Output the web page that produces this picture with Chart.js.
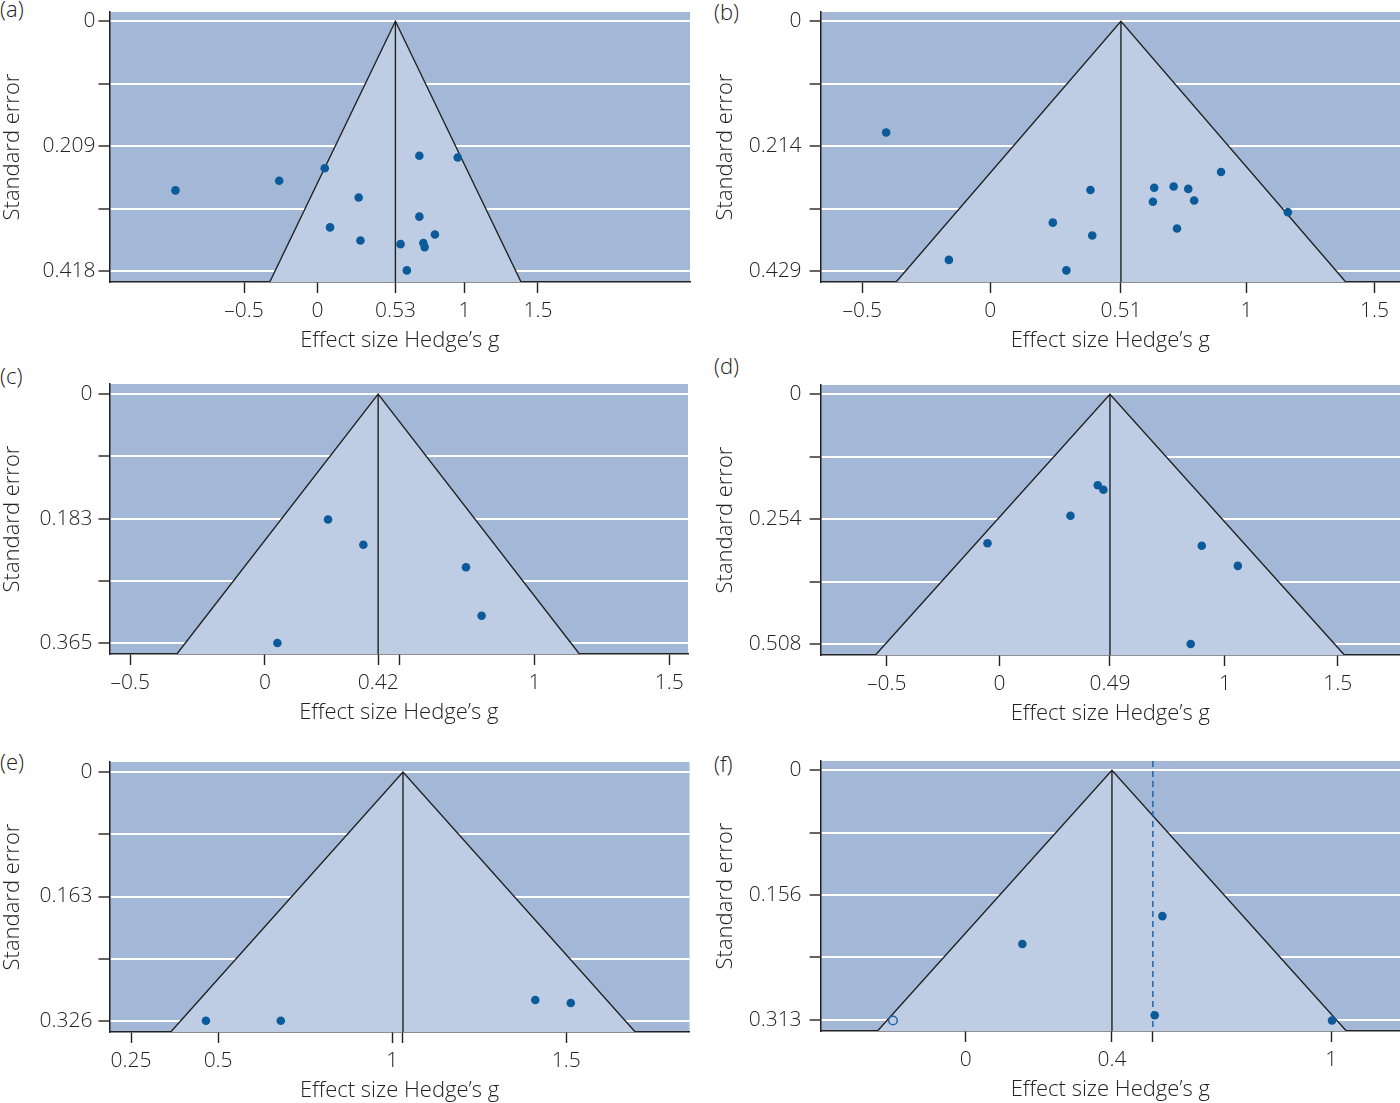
<!DOCTYPE html>
<html>
<head>
<meta charset="utf-8">
<script src="https://cdn.jsdelivr.net/npm/chart.js@4.4.1/dist/chart.umd.min.js"></script>
<style>
  html, body { margin: 0; padding: 0; background: #fff; }
  body { width: 1400px; height: 1103px; position: relative; overflow: hidden; }
  .panel { position: absolute; }
  .tag { position: absolute; font: 300 22px 'Open Sans', sans-serif; color: #222; line-height: 1; }
</style>
</head>
<body>
<div class="tag" style="left:0;top:-3px">(a)</div>
<div class="tag" style="left:714px;top:0">(b)</div>
<div class="tag" style="left:0;top:364px">(c)</div>
<div class="tag" style="left:714px;top:354px">(d)</div>
<div class="tag" style="left:0;top:750px">(e)</div>
<div class="tag" style="left:714px;top:752px">(f)</div>

<script>
// study effect sizes (Hedges' g) and standard errors
const aG  = [-0.967, -0.261, 0.049, 0.693, 0.954, 0.280, 0.693, 0.085, 0.799, 0.292, 0.565, 0.720, 0.729, 0.608];
const aSE = [0.283, 0.267, 0.246, 0.225, 0.228, 0.295, 0.327, 0.345, 0.357, 0.367, 0.373, 0.371, 0.378, 0.417];
const bG  = [-0.407, 0.901, 0.391, 0.640, 0.716, 0.773, 0.635, 0.796, 1.162, 0.244, 0.729, 0.398, -0.162, 0.297];
const bSE = [0.191, 0.259, 0.290, 0.286, 0.284, 0.288, 0.310, 0.308, 0.328, 0.346, 0.356, 0.368, 0.410, 0.428];
const cG  = [0.234, 0.365, 0.746, 0.804, 0.046];
const cSE = [0.184, 0.221, 0.254, 0.325, 0.365];
const dG  = [0.436, 0.461, 0.315, -0.053, 0.897, 1.057, 0.848];
const dSE = [0.185, 0.194, 0.247, 0.303, 0.308, 0.349, 0.508];
const eG  = [0.465, 0.680, 1.411, 1.513];
const eSE = [0.3256, 0.3256, 0.2986, 0.3025];
const fG  = [0.538, 0.155, 0.517, 1.002];
const fSE = [0.183, 0.218, 0.3075, 0.314];
// trim-and-fill imputed study in (f)
const fImpG  = [-0.199];
const fImpSE = [0.314];

// pooled estimates (funnel centre) and the adjusted estimate in (f)
const centres = [0.53, 0.51, 0.42, 0.49, 1.031, 0.40];
const fAdjusted = 0.512;

// tick values and labels
const aXTicks = [-0.5, 0, 0.53, 1, 1.5];
const aXLabels = ['\u20130.5', '0', '0.53', '1', '1.5'];
const bXTicks = [-0.5, 0, 0.51, 1, 1.5];
const bXLabels = ['\u20130.5', '0', '0.51', '1', '1.5'];
const cXTicks = [-0.5, 0, 0.42, 0.5, 1, 1.5];
const cXLabels = ['\u20130.5', '0', '0.42', '', '1', '1.5'];
const dXTicks = [-0.5, 0, 0.49, 1, 1.5];
const dXLabels = ['\u20130.5', '0', '0.49', '1', '1.5'];
const eXTicks = [0.25, 0.5, 1, 1.031, 1.5];
const eXLabels = ['0.25', '0.5', '1', '', '1.5'];
const fXTicks = [0, 0.4, 0.512, 1];
const fXLabels = ['0', '0.4', '', '1'];

const aYTicks = [0, 0.1045, 0.209, 0.3135, 0.418];
const bYTicks = [0, 0.10725, 0.214, 0.32175, 0.429];
const cYTicks = [0, 0.09125, 0.183, 0.27375, 0.365];
const dYTicks = [0, 0.127, 0.254, 0.381, 0.508];
const eYTicks = [0, 0.0815, 0.163, 0.2445, 0.326];
const fYTicks = [0, 0.07825, 0.156, 0.23475, 0.313];
const aYLabels = ['0', '', '0.209', '', '0.418'];
const bYLabels = ['0', '', '0.214', '', '0.429'];
const cYLabels = ['0', '', '0.183', '', '0.365'];
const dYLabels = ['0', '', '0.254', '', '0.508'];
const eYLabels = ['0', '', '0.163', '', '0.326'];
const fYLabels = ['0', '', '0.156', '', '0.313'];

const Z = 1.96;
const BG = '#a3b7d6';
const FUNNEL = '#bfcde4';
const DOT = '#0b5a99';
const INK = '#222';
const FONT = "'Open Sans', sans-serif";
const PAD_TOP = 24;
const X_AXIS_H = 80;

const plotBg = {
  id: 'plotBg',
  beforeDraw(chart) {
    const { ctx, chartArea: a } = chart;
    ctx.save();
    ctx.fillStyle = BG;
    ctx.fillRect(a.left, a.top, a.right - a.left, a.bottom - a.top);
    ctx.restore();
  }
};

function drawPanel(p) {
  const top = p.area.t - PAD_TOP;
  const w = 700;
  const h = Math.round(p.area.b - top + X_AXIS_H);
  const div = document.createElement('div');
  div.className = 'panel';
  div.style.cssText = `left:${p.x0}px;top:${top}px;width:${w}px;height:${h}px`;
  const cv = document.createElement('canvas');
  cv.width = w; cv.height = h;
  cv.style.width = w + 'px'; cv.style.height = h + 'px';
  div.appendChild(cv);
  document.body.appendChild(div);

  const yb = p.yLim[1];
  const c = p.centre;
  const datasets = [
    {
      data: p.g.map((v, i) => ({ x: v, y: p.se[i] })),
      showLine: false, pointRadius: 4.3, pointBorderWidth: 0,
      pointBackgroundColor: DOT, pointBorderColor: DOT, order: 0
    },
    {
      data: [{ x: c, y: 0 }, { x: c, y: yb }],
      borderColor: '#222', borderWidth: 1.4, pointRadius: 0, order: 2
    },
    {
      data: [{ x: c - Z * yb, y: yb }, { x: c, y: 0 }, { x: c + Z * yb, y: yb }],
      borderColor: '#222', borderWidth: 1.4, backgroundColor: FUNNEL,
      fill: 'shape', pointRadius: 0, order: 3
    }
  ];
  if (p.impG) {
    datasets.push({
      data: p.impG.map((v, i) => ({ x: v, y: p.impSE[i] })),
      showLine: false, pointRadius: 4.3, pointBorderWidth: 1.5,
      pointBackgroundColor: 'rgba(0,0,0,0)', pointBorderColor: '#1f64a8', order: 0
    });
  }
  if (p.adjusted !== undefined) {
    datasets.push({
      data: [{ x: p.adjusted, y: p.yLim[0] }, { x: p.adjusted, y: yb }],
      borderColor: '#1f64a8', borderWidth: 1.5, borderDash: [6, 4], pointRadius: 0, order: 1
    });
  }

  new Chart(cv, {
    type: 'line',
    data: { datasets },
    plugins: [plotBg],
    options: {
      responsive: false,
      animation: false,
      layout: {
        autoPadding: false,
        padding: { top: PAD_TOP, left: 0, bottom: 0, right: p.x0 + w - p.area.r }
      },
      plugins: { legend: { display: false }, tooltip: { enabled: false } },
      scales: {
        x: {
          type: 'linear', position: 'bottom', min: p.xLim[0], max: p.xLim[1], z: 1,
          border: { display: true, color: INK, width: 1.5 },
          grid: { drawOnChartArea: false, drawTicks: true, tickLength: 11, tickColor: INK, tickWidth: 1.4 },
          ticks: {
            autoSkip: false, maxRotation: 0, padding: 5, color: INK,
            font: { family: FONT, size: 21, weight: '300' },
            callback: (v, i) => p.xLabels[i]
          },
          afterBuildTicks: s => { s.ticks = p.xTicks.map(v => ({ value: v })); },
          afterFit: s => { s.height = X_AXIS_H; },
          title: {
            display: true, text: 'Effect size Hedge\u2019s g', color: INK,
            font: { family: FONT, size: 22, weight: '300' }, padding: { top: 0, bottom: 8 }
          }
        },
        y: {
          type: 'linear', reverse: true, min: p.yLim[0], max: p.yLim[1],
          border: { display: true, color: INK, width: 1.5 },
          grid: { color: '#fff', lineWidth: 2, drawTicks: true, tickLength: 11, tickColor: INK, tickWidth: 1.4 },
          ticks: {
            padding: p.yPad, color: INK, font: { family: FONT, size: 21, weight: '300' },
            callback: (v, i) => p.yLabels[i]
          },
          afterBuildTicks: s => { s.ticks = p.yTicks.map(v => ({ value: v })); },
          afterFit: s => { s.width = p.area.l - p.x0; },
          title: {
            display: true, text: 'Standard error', color: INK,
            font: { family: FONT, size: 22, weight: '300' }, padding: { top: p.yTitlePad, bottom: 0 }
          }
        }
      }
    }
  });
}

drawPanel({ x0: 0, area: { l: 109.5, r: 690, t: 11.7, b: 281.7 }, g: aG, se: aSE, centre: centres[0],
  xLim: [-1.416, 2.535], xTicks: aXTicks, xLabels: aXLabels,
  yLim: [-0.0156, 0.4364], yTicks: aYTicks, yLabels: aYLabels, yPad: 3, yTitlePad: 0 });
drawPanel({ x0: 700, area: { l: 820.6, r: 1400, t: 11.7, b: 281.7 }, g: bG, se: bSE, centre: centres[1],
  xLim: [-0.663, 1.60], xTicks: bXTicks, xLabels: bXLabels,
  yLim: [-0.016, 0.448], yTicks: bYTicks, yLabels: bYLabels, yPad: 8, yTitlePad: 13 });
drawPanel({ x0: 0, area: { l: 109.5, r: 688, t: 384.3, b: 654.3 }, g: cG, se: cSE, centre: centres[2],
  xLim: [-0.577, 1.570], xTicks: cXTicks, xLabels: cXLabels,
  yLim: [-0.0147, 0.3811], yTicks: cYTicks, yLabels: cYLabels, yPad: 6, yTitlePad: 0 });
drawPanel({ x0: 700, area: { l: 820.6, r: 1400, t: 385, b: 654.7 }, g: dG, se: dSE, centre: centres[3],
  xLim: [-0.793, 1.776], xTicks: dXTicks, xLabels: dXLabels,
  yLim: [-0.019, 0.5304], yTicks: dYTicks, yLabels: dYLabels, yPad: 8, yTitlePad: 13 });
drawPanel({ x0: 0, area: { l: 109.5, r: 689.5, t: 761.7, b: 1032 }, g: eG, se: eSE, centre: centres[4],
  xLim: [0.188, 1.854], xTicks: eXTicks, xLabels: eXLabels,
  yLim: [-0.0131, 0.3404], yTicks: eYTicks, yLabels: eYLabels, yPad: 6, yTitlePad: 0 });
drawPanel({ x0: 700, area: { l: 820.6, r: 1400, t: 760.7, b: 1030.7 }, g: fG, se: fSE, centre: centres[5],
  impG: fImpG, impSE: fImpSE, adjusted: fAdjusted,
  xLim: [-0.397, 1.188], xTicks: fXTicks, xLabels: fXLabels,
  yLim: [-0.0117, 0.3272], yTicks: fYTicks, yLabels: fYLabels, yPad: 8, yTitlePad: 13 });
</script>
</body>
</html>
